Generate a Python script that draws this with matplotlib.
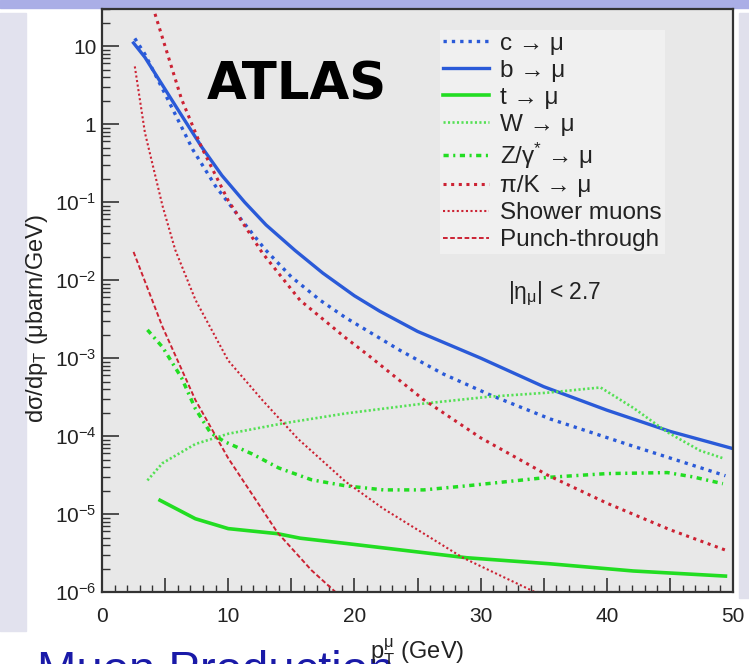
import numpy as np
import matplotlib.pyplot as plt
from matplotlib.ticker import MultipleLocator, FuncFormatter, LogLocator, NullFormatter
from matplotlib.patches import Rectangle

plt.rcParams.update({
    "font.family": ["Liberation Sans", "DejaVu Sans"],
    "mathtext.fontset": "custom",
    "mathtext.rm": "Liberation Sans",
    "mathtext.it": "Liberation Sans:italic",
    "mathtext.bf": "Liberation Sans:bold",
    "mathtext.sf": "Liberation Sans",
})

# Muon production cross sections, dsigma/dpT in ubarn/GeV
b_pt = [2.5, 3.4, 6.0, 7.9, 9.5, 11.3, 13, 15.3, 17.5, 20, 22, 25, 30, 35, 40, 45, 50]
b_xs = [11.0, 7.2, 1.55, 0.51, 0.22, 0.10, 0.051, 0.024, 0.0123, 6.3e-3, 4.0e-3,
        2.2e-3, 1.0e-3, 4.3e-4, 2.15e-4, 1.15e-4, 6.9e-5]

c_pt = [2.6, 3.4, 5.2, 7.2, 9.0, 11.1, 12.9, 15.0, 17.3, 19.3, 23.6, 27, 30.7,
        35.5, 42.1, 49.4]
c_xs = [12.6, 7.9, 2.1, 0.47, 0.16, 0.058, 0.025, 0.011, 5.5e-3, 3.3e-3, 1.26e-3,
        6.3e-4, 3.4e-4, 1.66e-4, 7.4e-5, 3.1e-5]

t_pt = [4.6, 7.4, 10, 13.9, 15.7, 19.3, 28.9, 35.5, 42.1, 49.4]
t_xs = [1.5e-5, 8.7e-6, 6.5e-6, 5.6e-6, 4.9e-6, 4.2e-6, 2.75e-6, 2.3e-6,
        1.86e-6, 1.6e-6]

w_pt = [3.6, 4.8, 7.4, 10, 14.3, 19.3, 25.4, 30.7, 35.3, 39.5, 42.1, 44.8, 47.4, 49.2]
w_xs = [2.7e-5, 4.5e-5, 7.9e-5, 1.07e-4, 1.45e-4, 1.95e-4, 2.6e-4, 3.2e-4,
        3.6e-4, 4.2e-4, 2.3e-4, 1.12e-4, 6.5e-5, 5.2e-5]

z_pt = [3.6, 4.8, 6.3, 7.4, 8.6, 9.7, 11.9, 14, 16.6, 19.3, 22.3, 25.5, 28.9,
        35.3, 40, 44.8, 46.8, 49.2]
z_xs = [2.3e-3, 1.38e-3, 5.6e-4, 2.24e-4, 1.1e-4, 8.5e-5, 5.9e-5, 3.9e-5, 2.75e-5,
        2.3e-5, 2.04e-5, 2.04e-5, 2.3e-5, 2.95e-5, 3.3e-5, 3.4e-5, 3.0e-5, 2.45e-5]

pik_pt = [4.2, 6.3, 7.9, 10, 12.7, 15.7, 19.3, 21, 25.4, 30, 35.3, 40, 45, 49.5]
pik_xs = [26, 2.1, 0.50, 0.105, 0.0224, 5.5e-3, 1.82e-3, 1.12e-3, 3.0e-4, 9.5e-5,
          3.16e-5, 1.38e-5, 6.3e-6, 3.4e-6]

shower_pt = [2.6, 3.4, 4.8, 5.8, 7.4, 10, 12.7, 15.5, 19.3, 22.3, 28.6, 34.3, 49.3]
shower_xs = [5.5, 0.78, 0.089, 0.0245, 5.6e-3, 9.3e-4, 2.9e-4, 9.3e-5, 2.6e-5,
             1.17e-5, 2.75e-6, 1e-6, 1e-6]

punch_pt = [2.5, 4.8, 7.4, 10, 13.9, 16.6, 18.5, 24]
punch_xs = [0.023, 2.5e-3, 2.9e-4, 5.2e-5, 5.8e-6, 1.9e-6, 1e-6, 1e-6]

blue = "#2a5ad8"
green = "#22dd22"
lightgreen = "#55e055"
red = "#cc2233"

fig = plt.figure(figsize=(7.49, 6.64), dpi=100, facecolor="white")

# slide decoration around the plot
deco = [((0, 1 - 8 / 664), 1, 8 / 664, "#aaaee6"),
        ((0, 0.05), 26 / 749, 0.93, "#e2e2ee"),
        ((1 - 10 / 749, 0.1), 10 / 749, 0.88, "#e0e0ec")]
for xy, w, h, col in deco:
    fig.patches.append(Rectangle(xy, w, h, transform=fig.transFigure,
                                 color=col, zorder=-10))

ax = fig.add_axes([102 / 749, 72 / 664, 631 / 749, 583 / 664])
ax.set_facecolor("#e8e8e8")

ax.plot(c_pt, c_xs, color=blue, lw=2.4, ls=(0, (1, 1.5)), label="c → μ")
ax.plot(b_pt, b_xs, color=blue, lw=2.4, label="b → μ")
ax.plot(t_pt, t_xs, color=green, lw=2.6, label="t → μ")
ax.plot(w_pt, w_xs, color=lightgreen, lw=1.9, ls=(0, (0.8, 0.9)), label="W → μ")
ax.plot(z_pt, z_xs, color=green, lw=2.5, ls=(0, (1.5, 1.3, 0.6, 1.3)),
        label="Z/γ$^{*}$ → μ")
ax.plot(pik_pt, pik_xs, color=red, lw=2.2, ls=(0, (1, 1.5)), label="π/K → μ")
ax.plot(shower_pt, shower_xs, color=red, lw=1.5, ls=(0, (1, 1.2)),
        label="Shower muons")
ax.plot(punch_pt, punch_xs, color=red, lw=1.4, ls=(0, (2.4, 1.3)),
        label="Punch-through")

ax.set_yscale("log")
ax.set_xlim(0, 50)
ax.set_ylim(1e-6, 30)

# ticks inside, labels every 10 GeV
ax.xaxis.set_major_locator(MultipleLocator(5))
ax.xaxis.set_minor_locator(MultipleLocator(1))
ax.xaxis.set_major_formatter(FuncFormatter(
    lambda v, p: f"{int(v)}" if abs(v % 10) < 1e-6 else ""))
ax.yaxis.set_major_locator(LogLocator(base=10, numticks=20))
ax.yaxis.set_minor_locator(LogLocator(base=10, subs=np.arange(2, 10), numticks=20))
ax.yaxis.set_minor_formatter(NullFormatter())


def ylab(v, p):
    e = int(round(np.log10(v)))
    if e == 1:
        return "10"
    if e == 0:
        return "1"
    return r"$\mathregular{10^{%d}}$" % e


ax.yaxis.set_major_formatter(FuncFormatter(ylab))
ax.tick_params(which="both", direction="in", top=False, right=False, colors="#333333",
               labelcolor="#222222", labelsize=15)
ax.tick_params(axis="x", which="major", length=10, width=1.2, pad=11)
ax.tick_params(axis="x", which="minor", length=5, width=1.0)
ax.tick_params(axis="y", which="major", length=12, width=1.2, pad=4)
ax.tick_params(axis="y", which="minor", length=6, width=1.0)
for s in ax.spines.values():
    s.set_color("#333333")
    s.set_linewidth(1.6)

ax.set_ylabel(r"$\mathregular{d\sigma/dp_T}$ (μbarn/GeV)", fontsize=17, color="#222222")
ax.yaxis.set_label_coords(-0.083, 0.47)
ax.set_xlabel(r"$\mathregular{p_T^{\mu}}$ (GeV)", fontsize=17, color="#222222")
ax.xaxis.set_label_coords(0.499, -0.077)

ax.text(0.309, 0.868, "ATLAS", transform=ax.transAxes, ha="center", va="center",
        fontsize=37, fontweight="bold", family="DejaVu Sans", color="black")
ax.text(0.718, 0.511, r"$\mathregular{|\eta_{\mu}|}$ < 2.7", transform=ax.transAxes,
        ha="center", va="center", fontsize=16.5, color="#222222")

leg = ax.legend(loc="upper left", bbox_to_anchor=(440 / 749, 1 - 30 / 664),
                bbox_transform=fig.transFigure, fontsize=17.5, frameon=True,
                fancybox=False, borderaxespad=0, handlelength=1.9,
                handletextpad=0.45, labelspacing=0.2, borderpad=0.12)
leg.get_frame().set_facecolor("#f3f3f3")
leg.get_frame().set_edgecolor("none")
for t in leg.get_texts():
    t.set_color("#222222")

fig.text(0.05, -0.03, "Muon Production", fontsize=34, color="#1a1aa8",
         ha="left", va="baseline", zorder=-5)

fig.savefig("out.png", dpi=100)
